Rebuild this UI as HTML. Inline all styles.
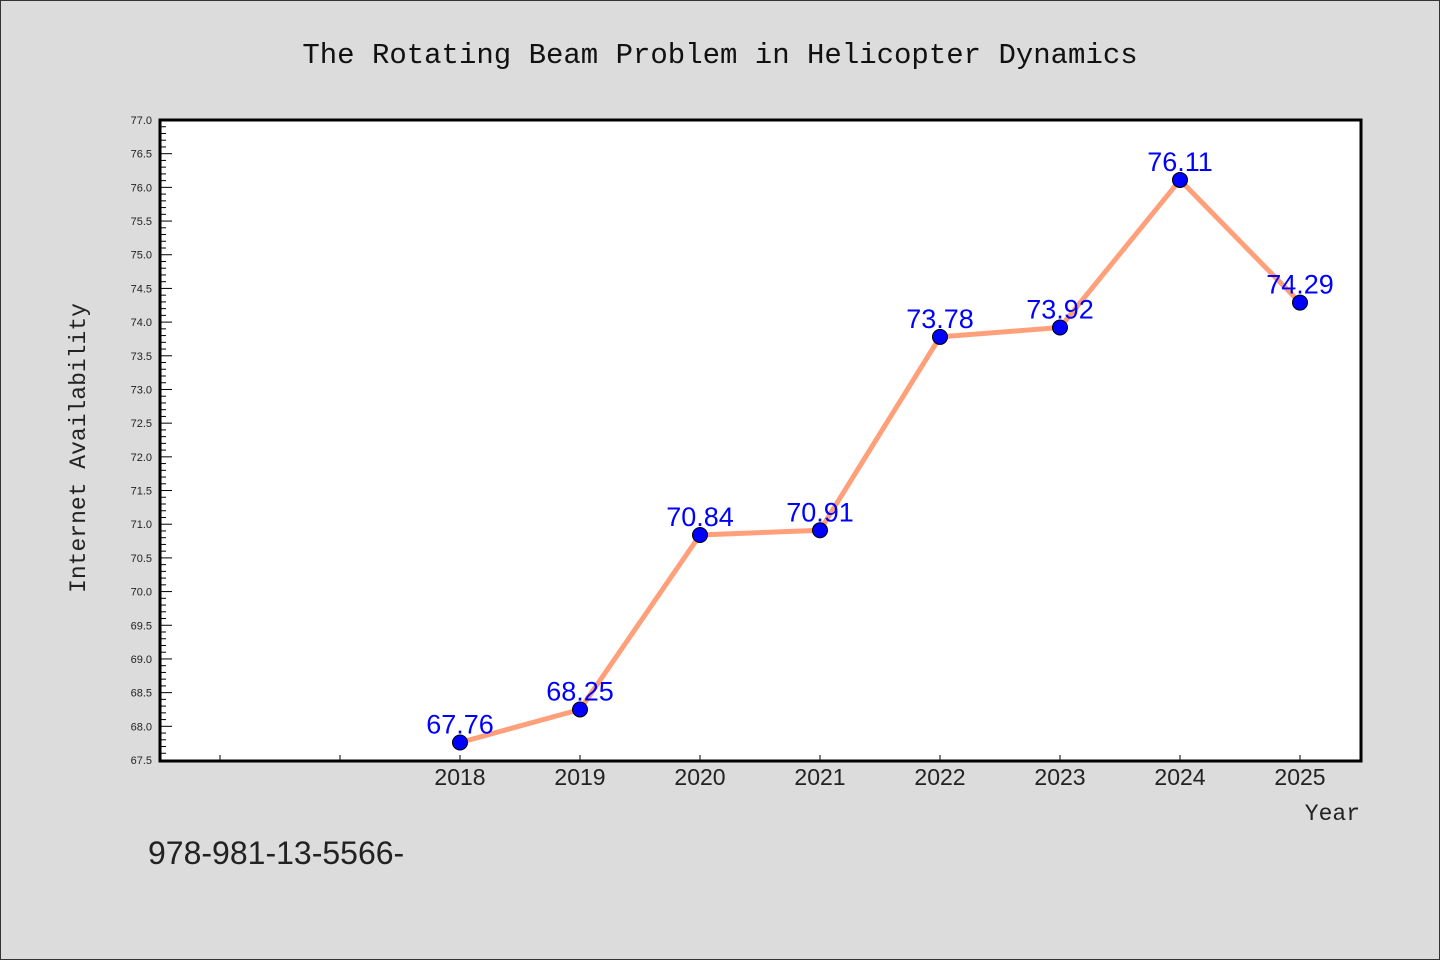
<!DOCTYPE html>
<html><head><meta charset="utf-8"><style>
html,body{margin:0;padding:0;background:#dcdcdc;}
svg{display:block;font-family:"WenQuanYi Zen Hei","Liberation Sans",sans-serif;}
</style></head><body>
<svg id="chart" width="1440" height="960" viewBox="0 0 1440 960">
<rect x="0.5" y="0.5" width="1439" height="959" fill="#dcdcdc" stroke="#333"/>
<text x="720" y="63" text-anchor="middle" font-family="Liberation Mono, monospace" font-size="29" fill="#111">The Rotating Beam Problem in Helicopter Dynamics</text>
<rect x="160" y="120" width="1201" height="641" fill="#fff"/>
<g id="yaxis"></g>
<g id="xaxis"></g>
<g id="series"></g>
<path d="M160,120 H1361 V761 H160 Z" fill="none" stroke="#000" stroke-width="3"/>
<text transform="translate(85,448) rotate(-90)" text-anchor="middle" font-family="Liberation Mono, monospace" font-size="23" fill="#222">Internet Availability</text>
<text x="1360" y="820" text-anchor="end" font-family="Liberation Mono, monospace" font-size="23" fill="#222">Year</text>
<text x="148" y="864" font-size="32" fill="#222">978-981-13-5566-</text>
</svg>
<script>
const years=[2018,2019,2020,2021,2022,2023,2024,2025];
const values=[67.76,68.25,70.84,70.91,73.78,73.92,76.11,74.29];
const labels=["67.76","68.25","70.84","70.91","73.78","73.92","76.11","74.29"];
const yMin=67.5,yMax=77.0;
const NS="http://www.w3.org/2000/svg";
function y(v){return 760-(v-yMin)*(640/(yMax-yMin));}
function x(yr){return 460+(yr-2018)*120;}
function mk(tag,attrs,parent){const e=document.createElementNS(NS,tag);for(const k in attrs)e.setAttribute(k,attrs[k]);parent.appendChild(e);return e;}
const ya=document.getElementById('yaxis'),xa=document.getElementById('xaxis'),sg=document.getElementById('series');
for(let i=0;i<=95;i++){
  const v=yMin+i*0.1,py=y(v),major=i%5===0;
  const t=mk('line',{x1:160,x2:160+(major?12:6),y1:py,y2:py,stroke:'#000','stroke-width':1},ya);
  
  
  if(major){
    const l=mk('text',{x:152,y:py+4,'text-anchor':'end','font-size':11,fill:'#222'},ya);
    l.textContent=v.toFixed(1);
    
    
  }
}
for(let yr=2016;yr<=2025;yr++){
  const px=x(yr);
  const t=mk('line',{x1:px,x2:px,y1:761,y2:755,stroke:'#000','stroke-width':1},xa);
  
  
}
years.forEach((yr,i)=>{
  const l=mk('text',{x:x(yr),y:785,'text-anchor':'middle','font-size':23,fill:'#222'},xa);
  l.textContent=String(yr);
  
  
});
const line=mk('polyline',{points:years.map((yr,i)=>x(yr)+','+y(values[i])).join(' '),fill:'none',stroke:'#ffa07a','stroke-width':5},sg);


years.forEach((yr,i)=>{
  const c=mk('circle',{cx:x(yr),cy:y(values[i]),r:7.5,fill:'#0000ff',stroke:'#000','stroke-width':1},sg);
  
  
  const t=mk('text',{x:x(yr),y:y(values[i])-9,'text-anchor':'middle','font-size':27,fill:'#0000ff'},sg);
  t.textContent=labels[i];
  
  
});
</script>
</body></html>
